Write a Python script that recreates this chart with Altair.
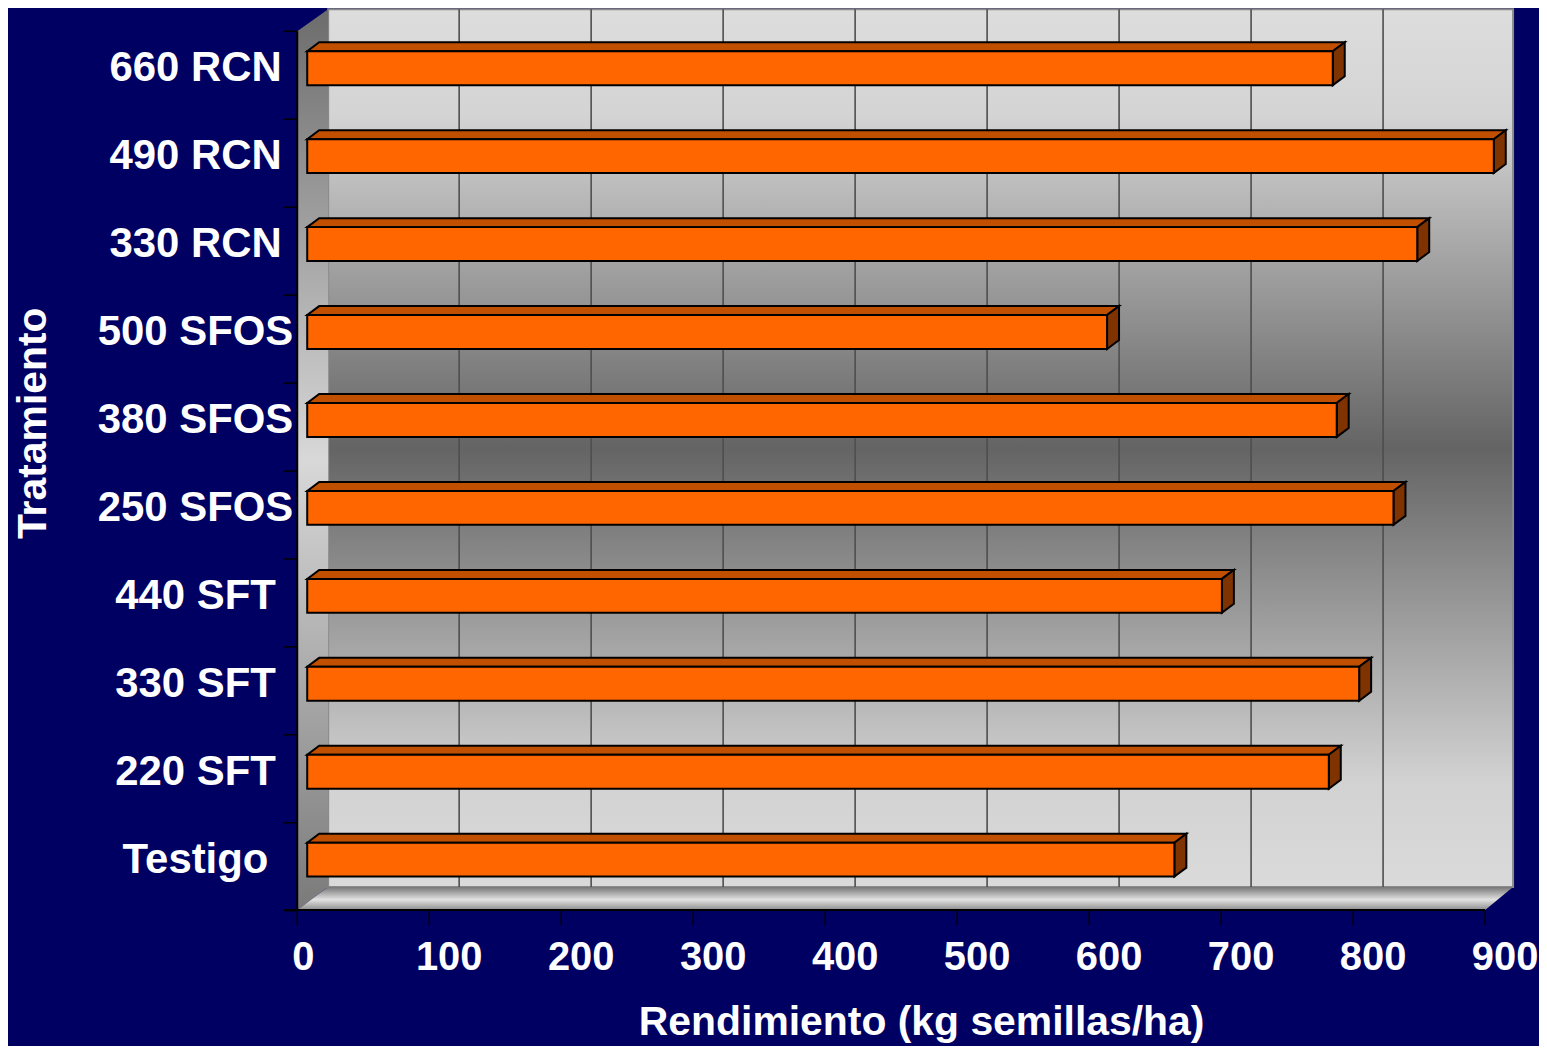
import altair as alt
import pandas as pd

# ---------------- data ----------------
categories = ["660 RCN", "490 RCN", "330 RCN", "500 SFOS", "380 SFOS",
              "250 SFOS", "440 SFT", "330 SFT", "220 SFT", "Testigo"]
values = [777, 899, 841, 606, 780, 823, 693, 797, 774, 657]
tick_values = [0, 100, 200, 300, 400, 500, 600, 700, 800, 900]
grid_values = [100, 200, 300, 400, 500, 600, 700, 800]
x_title = "Rendimiento (kg semillas/ha)"
y_title = "Tratamiento"

# ---------------- layout / style constants ----------------
PAD_L, PAD_T, PAD_R, PAD_B = 300, 22, 44, 135
W, H = 1191, 881
X_MAX = 900
PXU = W / X_MAX          # pixels per x unit
STEP = 88.17             # pixels per category row
C0 = 37                  # pixel centre of first row
HALF = 17 / STEP         # half bar thickness in row units
DXU = 12 / PXU           # 3D depth (x) in data units
DYU = 9 / STEP           # 3D depth (y) in row units
FONT = "Liberation Sans"
BG = "#000063"


def ux(px):
    return px / PXU


def uy(py):
    return (py - C0) / STEP


xs = alt.Scale(domain=[0, X_MAX], nice=False, zero=False)
ys = alt.Scale(domain=[uy(0), uy(H)], reverse=True, nice=False, zero=False)


def X(f):
    return alt.X(f, type="quantitative", scale=xs, axis=None)


def Y(f):
    return alt.Y(f, type="quantitative", scale=ys, axis=None)


def vgrad(stops):
    return alt.Gradient(gradient="linear",
                        stops=[alt.GradientStop(color=c, offset=o) for o, c in stops],
                        x1=0, x2=0, y1=0, y2=1)


# ---------------- frame (3D walls) ----------------
back_df = pd.DataFrame({"x0": [ux(21)], "x1": [ux(1209)], "y0": [uy(-22)], "y1": [uy(858)]})
back = alt.Chart(back_df).mark_rect(
    fill=vgrad([(0, "#DDDDDD"), (0.12, "#D4D4D4"), (0.5, "#646464"), (0.88, "#D2D2D2"), (1, "#DADADA")]),
    stroke="#8A8A8A", strokeWidth=2
).encode(x=X("x0"), x2="x1", y=Y("y0"), y2="y1")

left_df = pd.DataFrame({"x": [ux(-10), ux(21)], "y": [uy(0), uy(-22)], "y2": [uy(H), uy(858)]})
left = alt.Chart(left_df).mark_area(
    orient="vertical",
    fill=vgrad([(0, "#6C6C6C"), (0.5, "#D8D8D8"), (1, "#7A7A7A")])
).encode(x=X("x"), y=Y("y"), y2="y2")

floor_df = pd.DataFrame({
    "x": [ux(-10), ux(21), ux(1181), ux(1209)],
    "y": [uy(H), uy(858), uy(858), uy(858)],
    "y2": [uy(H), uy(H), uy(H), uy(858)],
})
floor = alt.Chart(floor_df).mark_area(
    orient="vertical",
    fill=vgrad([(0, "#777777"), (0.55, "#E2E2E2"), (1, "#8C8C8C")])
).encode(x=X("x"), y=Y("y"), y2="y2")

grid_df = pd.DataFrame({"v": grid_values, "y0": uy(-22), "y1": uy(858)})
grid = alt.Chart(grid_df).mark_rule(stroke="#4E4E4E", strokeWidth=1.6, xOffset=20).encode(
    x=X("v"), y=Y("y0"), y2="y1")

# ---------------- bars (3D) ----------------
rows = pd.DataFrame({"cat": categories, "value": values, "pos": list(range(len(categories)))})
rows["y0"] = rows["pos"] - HALF
rows["y1"] = rows["pos"] + HALF
rows["x0"] = 0

top_pts, side_pts = [], []
for cat, v, i in zip(categories, values, range(len(categories))):
    t = i - HALF
    b = i + HALF
    top_pts += [
        {"cat": cat, "x": 0, "y": t, "y2": t},
        {"cat": cat, "x": DXU, "y": t, "y2": t - DYU},
        {"cat": cat, "x": v, "y": t, "y2": t - DYU},
        {"cat": cat, "x": v + DXU, "y": t - DYU, "y2": t - DYU},
    ]
    side_pts += [
        {"cat": cat, "x": v, "y": t, "y2": b},
        {"cat": cat, "x": v + DXU, "y": t - DYU, "y2": b - DYU},
    ]
top_df = pd.DataFrame(top_pts)
side_df = pd.DataFrame(side_pts)

top_face = alt.Chart(top_df).mark_area(
    orient="vertical", fill="#C04F00", stroke="black", strokeWidth=2, strokeJoin="miter"
).encode(x=X("x"), y=Y("y"), y2="y2", detail="cat:N")

side_face = alt.Chart(side_df).mark_area(
    orient="vertical", fill="#7F3300", stroke="black", strokeWidth=2, strokeJoin="miter"
).encode(x=X("x"), y=Y("y"), y2="y2", detail="cat:N")

front_face = alt.Chart(rows).mark_rect(
    fill="#FF6600", stroke="black", strokeWidth=2
).encode(x=X("x0"), x2="value", y=Y("y0"), y2="y1")

# ---------------- axes ----------------
axis_df = pd.DataFrame({"a": [0]})
x_axis_line = alt.Chart(axis_df).mark_rule(stroke="black", strokeWidth=2).encode(
    x=alt.value(-23), x2=alt.value(1181), y=alt.value(H))
y_axis_line = alt.Chart(axis_df).mark_rule(stroke="black", strokeWidth=2).encode(
    x=alt.value(-10), y=alt.value(0), y2=alt.value(H))

xtick_df = pd.DataFrame({"v": tick_values})
x_ticks = alt.Chart(xtick_df).mark_rule(stroke="black", strokeWidth=1.5, xOffset=-10).encode(
    x=X("v"), y=alt.value(H), y2=alt.value(H + 15))

ytick_df = pd.DataFrame({"b": [uy(k * STEP) for k in range(len(categories) + 1)]})
y_ticks = alt.Chart(ytick_df).mark_rule(stroke="black", strokeWidth=1.5).encode(
    x=alt.value(-24), x2=alt.value(-10), y=Y("b"))

label_style = dict(font=FONT, fontWeight="bold", color="white", baseline="middle", align="center")

xlab_df = pd.DataFrame({"v": tick_values, "t": [str(v) for v in tick_values]})
x_labels0 = alt.Chart(xlab_df).transform_filter("datum.v == 0").mark_text(
    fontSize=40, dx=-4, **label_style).encode(x=X("v"), y=alt.value(929), text="t:N")
x_labels = alt.Chart(xlab_df).transform_filter("datum.v > 0").mark_text(
    fontSize=40, dx=10, **label_style).encode(x=X("v"), y=alt.value(929), text="t:N")

cat_labels = alt.Chart(rows).mark_text(fontSize=42, **label_style).encode(
    x=alt.value(-112), y=Y("pos"), text="cat:N")

title_df = pd.DataFrame({"xt": [x_title], "yt": [y_title]})
x_title_mark = alt.Chart(title_df).mark_text(
    font=FONT, fontWeight="bold", color="white", fontSize=41, align="center", baseline="alphabetic"
).encode(x=alt.value(616), y=alt.value(1006), text="xt:N")
y_title_mark = alt.Chart(title_df).mark_text(
    font=FONT, fontWeight="bold", color="white", fontSize=41, align="center", baseline="middle", angle=270
).encode(x=alt.value(-274), y=alt.value(393), text="yt:N")

chart = alt.layer(
    back, left, floor, grid,
    top_face, side_face, front_face,
    x_axis_line, y_axis_line, x_ticks, y_ticks,
    x_labels0, x_labels, cat_labels, x_title_mark, y_title_mark,
).properties(
    width=W, height=H,
    autosize=alt.AutoSizeParams(type="none"),
    padding={"left": PAD_L, "top": PAD_T, "right": PAD_R, "bottom": PAD_B},
    background=BG,
).configure_view(stroke=None)

chart.save("out.html", embed_options={"renderer": "svg", "actions": False})
